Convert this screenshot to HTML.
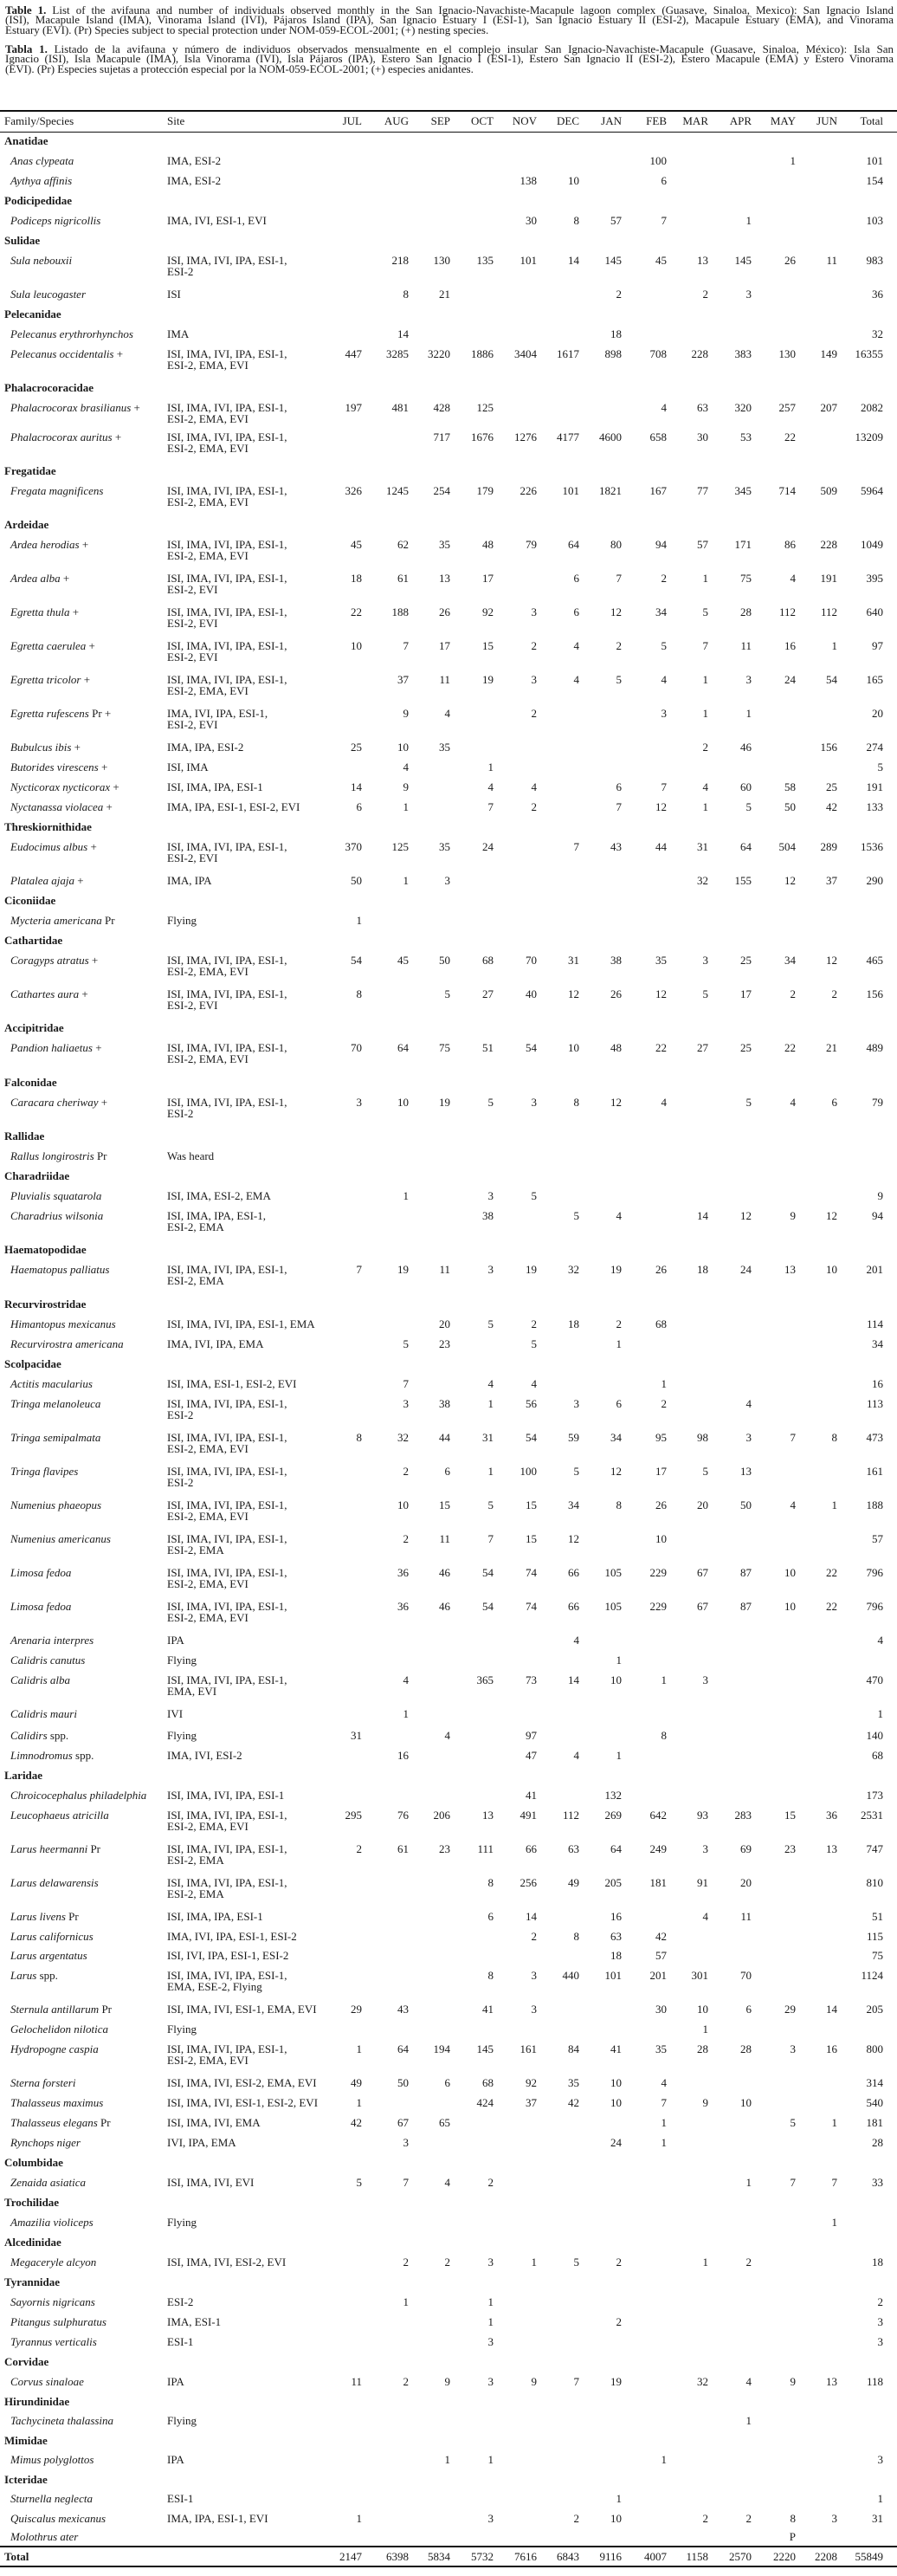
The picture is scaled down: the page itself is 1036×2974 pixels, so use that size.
<!DOCTYPE html>
<html><head><meta charset="utf-8">
<style>
html,body{margin:0;padding:0;background:#fff}
body{width:1036px;height:2974px;position:relative;overflow:hidden;font-family:"Liberation Serif",serif;font-size:13px;color:#1a1a1a}
.t{position:absolute;left:6px;width:1026px;height:14px;line-height:14px;font-size:13px;text-align:justify;text-align-last:justify;overflow:hidden;white-space:normal}
.t.l{text-align-last:left}
.r{position:absolute;left:0;width:1036px;height:14px;line-height:14px;white-space:nowrap}
.r b.fa{position:absolute;left:5px;font-weight:bold}
.r i{position:absolute;left:12px}
.r i span{font-style:normal}
.r .st{position:absolute;left:193px}
.r .s2{position:absolute;left:193px;top:13px}
.r u{position:absolute;text-decoration:none}
.m1{right:618px}.m2{right:564px}.m3{right:516px}.m4{right:466px}.m5{right:416px}.m6{right:367px}.m7{right:318px}.m8{right:266px}.m9{right:218px}.m10{right:168px}.m11{right:117px}.m12{right:69px}.m13{right:16px}
.rule{position:absolute;left:0;width:1036px;background:#111}
</style></head><body>

<div class="t" style="top:5px"><b>Table 1.</b> List of the avifauna and number of individuals observed monthly in the San Ignacio-Navachiste-Macapule lagoon complex (Guasave, Sinaloa, Mexico): San Ignacio Island</div>
<div class="t" style="top:16px">(ISI), Macapule Island (IMA), Vinorama Island (IVI), Pájaros Island (IPA), San Ignacio Estuary I (ESI-1), San Ignacio Estuary II (ESI-2), Macapule Estuary (EMA), and Vinorama</div>
<div class="t l" style="top:28px">Estuary (EVI). (Pr) Species subject to special protection under NOM-059-ECOL-2001; (+) nesting species.</div>
<div class="t" style="top:50px"><b>Tabla 1.</b> Listado de la avifauna y número de individuos observados mensualmente en el complejo insular San Ignacio-Navachiste-Macapule (Guasave, Sinaloa, México): Isla San</div>
<div class="t" style="top:61px">Ignacio (ISI), Isla Macapule (IMA), Isla Vinorama (IVI), Isla Pájaros (IPA), Estero San Ignacio I (ESI-1), Estero San Ignacio II (ESI-2), Estero Macapule (EMA) y Estero Vinorama</div>
<div class="t l" style="top:73px">(EVI). (Pr) Especies sujetas a protección especial por la NOM-059-ECOL-2001; (+) especies anidantes.</div>

<div class="rule" style="top:127px;height:2px"></div>
<div class="r" style="top:133px"><span style="position:absolute;left:5px">Family/Species</span><span class="st">Site</span><u class="m1">JUL</u><u class="m2">AUG</u><u class="m3">SEP</u><u class="m4">OCT</u><u class="m5">NOV</u><u class="m6">DEC</u><u class="m7">JAN</u><u class="m8">FEB</u><u class="m9">MAR</u><u class="m10">APR</u><u class="m11">MAY</u><u class="m12">JUN</u><u class="m13">Total</u></div>
<div class="rule" style="top:152px;height:1px"></div>

<div class="r" style="top:156px"><b class="fa">Anatidae</b></div>
<div class="r" style="top:179px"><i>Anas clypeata</i><span class="st">IMA, ESI-2</span><u class="m8">100</u><u class="m11">1</u><u class="m13">101</u></div>
<div class="r" style="top:202px"><i>Aythya affinis</i><span class="st">IMA, ESI-2</span><u class="m5">138</u><u class="m6">10</u><u class="m8">6</u><u class="m13">154</u></div>
<div class="r" style="top:225px"><b class="fa">Podicipedidae</b></div>
<div class="r" style="top:248px"><i>Podiceps nigricollis</i><span class="st">IMA, IVI, ESI-1, EVI</span><u class="m5">30</u><u class="m6">8</u><u class="m7">57</u><u class="m8">7</u><u class="m10">1</u><u class="m13">103</u></div>
<div class="r" style="top:271px"><b class="fa">Sulidae</b></div>
<div class="r" style="top:294px"><i>Sula nebouxii</i><span class="st">ISI, IMA, IVI, IPA, ESI-1,</span><span class="s2">ESI-2</span><u class="m2">218</u><u class="m3">130</u><u class="m4">135</u><u class="m5">101</u><u class="m6">14</u><u class="m7">145</u><u class="m8">45</u><u class="m9">13</u><u class="m10">145</u><u class="m11">26</u><u class="m12">11</u><u class="m13">983</u></div>
<div class="r" style="top:333px"><i>Sula leucogaster</i><span class="st">ISI</span><u class="m2">8</u><u class="m3">21</u><u class="m7">2</u><u class="m9">2</u><u class="m10">3</u><u class="m13">36</u></div>
<div class="r" style="top:356px"><b class="fa">Pelecanidae</b></div>
<div class="r" style="top:379px"><i>Pelecanus erythrorhynchos</i><span class="st">IMA</span><u class="m2">14</u><u class="m7">18</u><u class="m13">32</u></div>
<div class="r" style="top:402px"><i>Pelecanus occidentalis <span>+</span></i><span class="st">ISI, IMA, IVI, IPA, ESI-1,</span><span class="s2">ESI-2, EMA, EVI</span><u class="m1">447</u><u class="m2">3285</u><u class="m3">3220</u><u class="m4">1886</u><u class="m5">3404</u><u class="m6">1617</u><u class="m7">898</u><u class="m8">708</u><u class="m9">228</u><u class="m10">383</u><u class="m11">130</u><u class="m12">149</u><u class="m13">16355</u></div>
<div class="r" style="top:441px"><b class="fa">Phalacrocoracidae</b></div>
<div class="r" style="top:464px"><i>Phalacrocorax brasilianus <span>+</span></i><span class="st">ISI, IMA, IVI, IPA, ESI-1,</span><span class="s2">ESI-2, EMA, EVI</span><u class="m1">197</u><u class="m2">481</u><u class="m3">428</u><u class="m4">125</u><u class="m8">4</u><u class="m9">63</u><u class="m10">320</u><u class="m11">257</u><u class="m12">207</u><u class="m13">2082</u></div>
<div class="r" style="top:498px"><i>Phalacrocorax auritus <span>+</span></i><span class="st">ISI, IMA, IVI, IPA, ESI-1,</span><span class="s2">ESI-2, EMA, EVI</span><u class="m3">717</u><u class="m4">1676</u><u class="m5">1276</u><u class="m6">4177</u><u class="m7">4600</u><u class="m8">658</u><u class="m9">30</u><u class="m10">53</u><u class="m11">22</u><u class="m13">13209</u></div>
<div class="r" style="top:537px"><b class="fa">Fregatidae</b></div>
<div class="r" style="top:560px"><i>Fregata magnificens</i><span class="st">ISI, IMA, IVI, IPA, ESI-1,</span><span class="s2">ESI-2, EMA, EVI</span><u class="m1">326</u><u class="m2">1245</u><u class="m3">254</u><u class="m4">179</u><u class="m5">226</u><u class="m6">101</u><u class="m7">1821</u><u class="m8">167</u><u class="m9">77</u><u class="m10">345</u><u class="m11">714</u><u class="m12">509</u><u class="m13">5964</u></div>
<div class="r" style="top:599px"><b class="fa">Ardeidae</b></div>
<div class="r" style="top:622px"><i>Ardea herodias <span>+</span></i><span class="st">ISI, IMA, IVI, IPA, ESI-1,</span><span class="s2">ESI-2, EMA, EVI</span><u class="m1">45</u><u class="m2">62</u><u class="m3">35</u><u class="m4">48</u><u class="m5">79</u><u class="m6">64</u><u class="m7">80</u><u class="m8">94</u><u class="m9">57</u><u class="m10">171</u><u class="m11">86</u><u class="m12">228</u><u class="m13">1049</u></div>
<div class="r" style="top:661px"><i>Ardea alba <span>+</span></i><span class="st">ISI, IMA, IVI, IPA, ESI-1,</span><span class="s2">ESI-2, EVI</span><u class="m1">18</u><u class="m2">61</u><u class="m3">13</u><u class="m4">17</u><u class="m6">6</u><u class="m7">7</u><u class="m8">2</u><u class="m9">1</u><u class="m10">75</u><u class="m11">4</u><u class="m12">191</u><u class="m13">395</u></div>
<div class="r" style="top:700px"><i>Egretta thula <span>+</span></i><span class="st">ISI, IMA, IVI, IPA, ESI-1,</span><span class="s2">ESI-2, EVI</span><u class="m1">22</u><u class="m2">188</u><u class="m3">26</u><u class="m4">92</u><u class="m5">3</u><u class="m6">6</u><u class="m7">12</u><u class="m8">34</u><u class="m9">5</u><u class="m10">28</u><u class="m11">112</u><u class="m12">112</u><u class="m13">640</u></div>
<div class="r" style="top:739px"><i>Egretta caerulea <span>+</span></i><span class="st">ISI, IMA, IVI, IPA, ESI-1,</span><span class="s2">ESI-2, EVI</span><u class="m1">10</u><u class="m2">7</u><u class="m3">17</u><u class="m4">15</u><u class="m5">2</u><u class="m6">4</u><u class="m7">2</u><u class="m8">5</u><u class="m9">7</u><u class="m10">11</u><u class="m11">16</u><u class="m12">1</u><u class="m13">97</u></div>
<div class="r" style="top:778px"><i>Egretta tricolor <span>+</span></i><span class="st">ISI, IMA, IVI, IPA, ESI-1,</span><span class="s2">ESI-2, EMA, EVI</span><u class="m2">37</u><u class="m3">11</u><u class="m4">19</u><u class="m5">3</u><u class="m6">4</u><u class="m7">5</u><u class="m8">4</u><u class="m9">1</u><u class="m10">3</u><u class="m11">24</u><u class="m12">54</u><u class="m13">165</u></div>
<div class="r" style="top:817px"><i>Egretta rufescens <span>Pr +</span></i><span class="st">IMA, IVI, IPA, ESI-1,</span><span class="s2">ESI-2, EVI</span><u class="m2">9</u><u class="m3">4</u><u class="m5">2</u><u class="m8">3</u><u class="m9">1</u><u class="m10">1</u><u class="m13">20</u></div>
<div class="r" style="top:856px"><i>Bubulcus ibis <span>+</span></i><span class="st">IMA, IPA, ESI-2</span><u class="m1">25</u><u class="m2">10</u><u class="m3">35</u><u class="m9">2</u><u class="m10">46</u><u class="m12">156</u><u class="m13">274</u></div>
<div class="r" style="top:879px"><i>Butorides virescens <span>+</span></i><span class="st">ISI, IMA</span><u class="m2">4</u><u class="m4">1</u><u class="m13">5</u></div>
<div class="r" style="top:902px"><i>Nycticorax nycticorax <span>+</span></i><span class="st">ISI, IMA, IPA, ESI-1</span><u class="m1">14</u><u class="m2">9</u><u class="m4">4</u><u class="m5">4</u><u class="m7">6</u><u class="m8">7</u><u class="m9">4</u><u class="m10">60</u><u class="m11">58</u><u class="m12">25</u><u class="m13">191</u></div>
<div class="r" style="top:925px"><i>Nyctanassa violacea <span>+</span></i><span class="st">IMA, IPA, ESI-1, ESI-2, EVI</span><u class="m1">6</u><u class="m2">1</u><u class="m4">7</u><u class="m5">2</u><u class="m7">7</u><u class="m8">12</u><u class="m9">1</u><u class="m10">5</u><u class="m11">50</u><u class="m12">42</u><u class="m13">133</u></div>
<div class="r" style="top:948px"><b class="fa">Threskiornithidae</b></div>
<div class="r" style="top:971px"><i>Eudocimus albus <span>+</span></i><span class="st">ISI, IMA, IVI, IPA, ESI-1,</span><span class="s2">ESI-2, EVI</span><u class="m1">370</u><u class="m2">125</u><u class="m3">35</u><u class="m4">24</u><u class="m6">7</u><u class="m7">43</u><u class="m8">44</u><u class="m9">31</u><u class="m10">64</u><u class="m11">504</u><u class="m12">289</u><u class="m13">1536</u></div>
<div class="r" style="top:1010px"><i>Platalea ajaja <span>+</span></i><span class="st">IMA, IPA</span><u class="m1">50</u><u class="m2">1</u><u class="m3">3</u><u class="m9">32</u><u class="m10">155</u><u class="m11">12</u><u class="m12">37</u><u class="m13">290</u></div>
<div class="r" style="top:1033px"><b class="fa">Ciconiidae</b></div>
<div class="r" style="top:1056px"><i>Mycteria americana <span>Pr</span></i><span class="st">Flying</span><u class="m1">1</u></div>
<div class="r" style="top:1079px"><b class="fa">Cathartidae</b></div>
<div class="r" style="top:1102px"><i>Coragyps atratus <span>+</span></i><span class="st">ISI, IMA, IVI, IPA, ESI-1,</span><span class="s2">ESI-2, EMA, EVI</span><u class="m1">54</u><u class="m2">45</u><u class="m3">50</u><u class="m4">68</u><u class="m5">70</u><u class="m6">31</u><u class="m7">38</u><u class="m8">35</u><u class="m9">3</u><u class="m10">25</u><u class="m11">34</u><u class="m12">12</u><u class="m13">465</u></div>
<div class="r" style="top:1141px"><i>Cathartes aura <span>+</span></i><span class="st">ISI, IMA, IVI, IPA, ESI-1,</span><span class="s2">ESI-2, EVI</span><u class="m1">8</u><u class="m3">5</u><u class="m4">27</u><u class="m5">40</u><u class="m6">12</u><u class="m7">26</u><u class="m8">12</u><u class="m9">5</u><u class="m10">17</u><u class="m11">2</u><u class="m12">2</u><u class="m13">156</u></div>
<div class="r" style="top:1180px"><b class="fa">Accipitridae</b></div>
<div class="r" style="top:1203px"><i>Pandion haliaetus <span>+</span></i><span class="st">ISI, IMA, IVI, IPA, ESI-1,</span><span class="s2">ESI-2, EMA, EVI</span><u class="m1">70</u><u class="m2">64</u><u class="m3">75</u><u class="m4">51</u><u class="m5">54</u><u class="m6">10</u><u class="m7">48</u><u class="m8">22</u><u class="m9">27</u><u class="m10">25</u><u class="m11">22</u><u class="m12">21</u><u class="m13">489</u></div>
<div class="r" style="top:1243px"><b class="fa">Falconidae</b></div>
<div class="r" style="top:1266px"><i>Caracara cheriway <span>+</span></i><span class="st">ISI, IMA, IVI, IPA, ESI-1,</span><span class="s2">ESI-2</span><u class="m1">3</u><u class="m2">10</u><u class="m3">19</u><u class="m4">5</u><u class="m5">3</u><u class="m6">8</u><u class="m7">12</u><u class="m8">4</u><u class="m10">5</u><u class="m11">4</u><u class="m12">6</u><u class="m13">79</u></div>
<div class="r" style="top:1305px"><b class="fa">Rallidae</b></div>
<div class="r" style="top:1328px"><i>Rallus longirostris <span>Pr</span></i><span class="st">Was heard</span></div>
<div class="r" style="top:1351px"><b class="fa">Charadriidae</b></div>
<div class="r" style="top:1374px"><i>Pluvialis squatarola</i><span class="st">ISI, IMA, ESI-2, EMA</span><u class="m2">1</u><u class="m4">3</u><u class="m5">5</u><u class="m13">9</u></div>
<div class="r" style="top:1397px"><i>Charadrius wilsonia</i><span class="st">ISI, IMA, IPA, ESI-1,</span><span class="s2">ESI-2, EMA</span><u class="m4">38</u><u class="m6">5</u><u class="m7">4</u><u class="m9">14</u><u class="m10">12</u><u class="m11">9</u><u class="m12">12</u><u class="m13">94</u></div>
<div class="r" style="top:1436px"><b class="fa">Haematopodidae</b></div>
<div class="r" style="top:1459px"><i>Haematopus palliatus</i><span class="st">ISI, IMA, IVI, IPA, ESI-1,</span><span class="s2">ESI-2, EMA</span><u class="m1">7</u><u class="m2">19</u><u class="m3">11</u><u class="m4">3</u><u class="m5">19</u><u class="m6">32</u><u class="m7">19</u><u class="m8">26</u><u class="m9">18</u><u class="m10">24</u><u class="m11">13</u><u class="m12">10</u><u class="m13">201</u></div>
<div class="r" style="top:1499px"><b class="fa">Recurvirostridae</b></div>
<div class="r" style="top:1522px"><i>Himantopus mexicanus</i><span class="st">ISI, IMA, IVI, IPA, ESI-1, EMA</span><u class="m3">20</u><u class="m4">5</u><u class="m5">2</u><u class="m6">18</u><u class="m7">2</u><u class="m8">68</u><u class="m13">114</u></div>
<div class="r" style="top:1545px"><i>Recurvirostra americana</i><span class="st">IMA, IVI, IPA, EMA</span><u class="m2">5</u><u class="m3">23</u><u class="m5">5</u><u class="m7">1</u><u class="m13">34</u></div>
<div class="r" style="top:1568px"><b class="fa">Scolpacidae</b></div>
<div class="r" style="top:1591px"><i>Actitis macularius</i><span class="st">ISI, IMA, ESI-1, ESI-2, EVI</span><u class="m2">7</u><u class="m4">4</u><u class="m5">4</u><u class="m8">1</u><u class="m13">16</u></div>
<div class="r" style="top:1614px"><i>Tringa melanoleuca</i><span class="st">ISI, IMA, IVI, IPA, ESI-1,</span><span class="s2">ESI-2</span><u class="m2">3</u><u class="m3">38</u><u class="m4">1</u><u class="m5">56</u><u class="m6">3</u><u class="m7">6</u><u class="m8">2</u><u class="m10">4</u><u class="m13">113</u></div>
<div class="r" style="top:1653px"><i>Tringa semipalmata</i><span class="st">ISI, IMA, IVI, IPA, ESI-1,</span><span class="s2">ESI-2, EMA, EVI</span><u class="m1">8</u><u class="m2">32</u><u class="m3">44</u><u class="m4">31</u><u class="m5">54</u><u class="m6">59</u><u class="m7">34</u><u class="m8">95</u><u class="m9">98</u><u class="m10">3</u><u class="m11">7</u><u class="m12">8</u><u class="m13">473</u></div>
<div class="r" style="top:1692px"><i>Tringa flavipes</i><span class="st">ISI, IMA, IVI, IPA, ESI-1,</span><span class="s2">ESI-2</span><u class="m2">2</u><u class="m3">6</u><u class="m4">1</u><u class="m5">100</u><u class="m6">5</u><u class="m7">12</u><u class="m8">17</u><u class="m9">5</u><u class="m10">13</u><u class="m13">161</u></div>
<div class="r" style="top:1731px"><i>Numenius phaeopus</i><span class="st">ISI, IMA, IVI, IPA, ESI-1,</span><span class="s2">ESI-2, EMA, EVI</span><u class="m2">10</u><u class="m3">15</u><u class="m4">5</u><u class="m5">15</u><u class="m6">34</u><u class="m7">8</u><u class="m8">26</u><u class="m9">20</u><u class="m10">50</u><u class="m11">4</u><u class="m12">1</u><u class="m13">188</u></div>
<div class="r" style="top:1770px"><i>Numenius americanus</i><span class="st">ISI, IMA, IVI, IPA, ESI-1,</span><span class="s2">ESI-2, EMA</span><u class="m2">2</u><u class="m3">11</u><u class="m4">7</u><u class="m5">15</u><u class="m6">12</u><u class="m8">10</u><u class="m13">57</u></div>
<div class="r" style="top:1809px"><i>Limosa fedoa</i><span class="st">ISI, IMA, IVI, IPA, ESI-1,</span><span class="s2">ESI-2, EMA, EVI</span><u class="m2">36</u><u class="m3">46</u><u class="m4">54</u><u class="m5">74</u><u class="m6">66</u><u class="m7">105</u><u class="m8">229</u><u class="m9">67</u><u class="m10">87</u><u class="m11">10</u><u class="m12">22</u><u class="m13">796</u></div>
<div class="r" style="top:1848px"><i>Limosa fedoa</i><span class="st">ISI, IMA, IVI, IPA, ESI-1,</span><span class="s2">ESI-2, EMA, EVI</span><u class="m2">36</u><u class="m3">46</u><u class="m4">54</u><u class="m5">74</u><u class="m6">66</u><u class="m7">105</u><u class="m8">229</u><u class="m9">67</u><u class="m10">87</u><u class="m11">10</u><u class="m12">22</u><u class="m13">796</u></div>
<div class="r" style="top:1887px"><i>Arenaria interpres</i><span class="st">IPA</span><u class="m6">4</u><u class="m13">4</u></div>
<div class="r" style="top:1910px"><i>Calidris canutus</i><span class="st">Flying</span><u class="m7">1</u></div>
<div class="r" style="top:1933px"><i>Calidris alba</i><span class="st">ISI, IMA, IVI, IPA, ESI-1,</span><span class="s2">EMA, EVI</span><u class="m2">4</u><u class="m4">365</u><u class="m5">73</u><u class="m6">14</u><u class="m7">10</u><u class="m8">1</u><u class="m9">3</u><u class="m13">470</u></div>
<div class="r" style="top:1972px"><i>Calidris mauri</i><span class="st">IVI</span><u class="m2">1</u><u class="m13">1</u></div>
<div class="r" style="top:1997px"><i>Calidirs <span>spp.</span></i><span class="st">Flying</span><u class="m1">31</u><u class="m3">4</u><u class="m5">97</u><u class="m8">8</u><u class="m13">140</u></div>
<div class="r" style="top:2020px"><i>Limnodromus <span>spp.</span></i><span class="st">IMA, IVI, ESI-2</span><u class="m2">16</u><u class="m5">47</u><u class="m6">4</u><u class="m7">1</u><u class="m13">68</u></div>
<div class="r" style="top:2043px"><b class="fa">Laridae</b></div>
<div class="r" style="top:2066px"><i>Chroicocephalus philadelphia</i><span class="st">ISI, IMA, IVI, IPA, ESI-1</span><u class="m5">41</u><u class="m7">132</u><u class="m13">173</u></div>
<div class="r" style="top:2089px"><i>Leucophaeus atricilla</i><span class="st">ISI, IMA, IVI, IPA, ESI-1,</span><span class="s2">ESI-2, EMA, EVI</span><u class="m1">295</u><u class="m2">76</u><u class="m3">206</u><u class="m4">13</u><u class="m5">491</u><u class="m6">112</u><u class="m7">269</u><u class="m8">642</u><u class="m9">93</u><u class="m10">283</u><u class="m11">15</u><u class="m12">36</u><u class="m13">2531</u></div>
<div class="r" style="top:2128px"><i>Larus heermanni <span>Pr</span></i><span class="st">ISI, IMA, IVI, IPA, ESI-1,</span><span class="s2">ESI-2, EMA</span><u class="m1">2</u><u class="m2">61</u><u class="m3">23</u><u class="m4">111</u><u class="m5">66</u><u class="m6">63</u><u class="m7">64</u><u class="m8">249</u><u class="m9">3</u><u class="m10">69</u><u class="m11">23</u><u class="m12">13</u><u class="m13">747</u></div>
<div class="r" style="top:2167px"><i>Larus delawarensis</i><span class="st">ISI, IMA, IVI, IPA, ESI-1,</span><span class="s2">ESI-2, EMA</span><u class="m4">8</u><u class="m5">256</u><u class="m6">49</u><u class="m7">205</u><u class="m8">181</u><u class="m9">91</u><u class="m10">20</u><u class="m13">810</u></div>
<div class="r" style="top:2206px"><i>Larus livens <span>Pr</span></i><span class="st">ISI, IMA, IPA, ESI-1</span><u class="m4">6</u><u class="m5">14</u><u class="m7">16</u><u class="m9">4</u><u class="m10">11</u><u class="m13">51</u></div>
<div class="r" style="top:2229px"><i>Larus californicus</i><span class="st">IMA, IVI, IPA, ESI-1, ESI-2</span><u class="m5">2</u><u class="m6">8</u><u class="m7">63</u><u class="m8">42</u><u class="m13">115</u></div>
<div class="r" style="top:2251px"><i>Larus argentatus</i><span class="st">ISI, IVI, IPA, ESI-1, ESI-2</span><u class="m7">18</u><u class="m8">57</u><u class="m13">75</u></div>
<div class="r" style="top:2274px"><i>Larus <span>spp.</span></i><span class="st">ISI, IMA, IVI, IPA, ESI-1,</span><span class="s2">EMA, ESE-2, Flying</span><u class="m4">8</u><u class="m5">3</u><u class="m6">440</u><u class="m7">101</u><u class="m8">201</u><u class="m9">301</u><u class="m10">70</u><u class="m13">1124</u></div>
<div class="r" style="top:2313px"><i>Sternula antillarum <span>Pr</span></i><span class="st">ISI, IMA, IVI, ESI-1, EMA, EVI</span><u class="m1">29</u><u class="m2">43</u><u class="m4">41</u><u class="m5">3</u><u class="m8">30</u><u class="m9">10</u><u class="m10">6</u><u class="m11">29</u><u class="m12">14</u><u class="m13">205</u></div>
<div class="r" style="top:2336px"><i>Gelochelidon nilotica</i><span class="st">Flying</span><u class="m9">1</u></div>
<div class="r" style="top:2359px"><i>Hydropogne caspia</i><span class="st">ISI, IMA, IVI, IPA, ESI-1,</span><span class="s2">ESI-2, EMA, EVI</span><u class="m1">1</u><u class="m2">64</u><u class="m3">194</u><u class="m4">145</u><u class="m5">161</u><u class="m6">84</u><u class="m7">41</u><u class="m8">35</u><u class="m9">28</u><u class="m10">28</u><u class="m11">3</u><u class="m12">16</u><u class="m13">800</u></div>
<div class="r" style="top:2398px"><i>Sterna forsteri</i><span class="st">ISI, IMA, IVI, ESI-2, EMA, EVI</span><u class="m1">49</u><u class="m2">50</u><u class="m3">6</u><u class="m4">68</u><u class="m5">92</u><u class="m6">35</u><u class="m7">10</u><u class="m8">4</u><u class="m13">314</u></div>
<div class="r" style="top:2421px"><i>Thalasseus maximus</i><span class="st">ISI, IMA, IVI, ESI-1, ESI-2, EVI</span><u class="m1">1</u><u class="m4">424</u><u class="m5">37</u><u class="m6">42</u><u class="m7">10</u><u class="m8">7</u><u class="m9">9</u><u class="m10">10</u><u class="m13">540</u></div>
<div class="r" style="top:2444px"><i>Thalasseus elegans <span>Pr</span></i><span class="st">ISI, IMA, IVI, EMA</span><u class="m1">42</u><u class="m2">67</u><u class="m3">65</u><u class="m8">1</u><u class="m11">5</u><u class="m12">1</u><u class="m13">181</u></div>
<div class="r" style="top:2467px"><i>Rynchops niger</i><span class="st">IVI, IPA, EMA</span><u class="m2">3</u><u class="m7">24</u><u class="m8">1</u><u class="m13">28</u></div>
<div class="r" style="top:2490px"><b class="fa">Columbidae</b></div>
<div class="r" style="top:2513px"><i>Zenaida asiatica</i><span class="st">ISI, IMA, IVI, EVI</span><u class="m1">5</u><u class="m2">7</u><u class="m3">4</u><u class="m4">2</u><u class="m10">1</u><u class="m11">7</u><u class="m12">7</u><u class="m13">33</u></div>
<div class="r" style="top:2536px"><b class="fa">Trochilidae</b></div>
<div class="r" style="top:2559px"><i>Amazilia violiceps</i><span class="st">Flying</span><u class="m12">1</u></div>
<div class="r" style="top:2582px"><b class="fa">Alcedinidae</b></div>
<div class="r" style="top:2605px"><i>Megaceryle alcyon</i><span class="st">ISI, IMA, IVI, ESI-2, EVI</span><u class="m2">2</u><u class="m3">2</u><u class="m4">3</u><u class="m5">1</u><u class="m6">5</u><u class="m7">2</u><u class="m9">1</u><u class="m10">2</u><u class="m13">18</u></div>
<div class="r" style="top:2628px"><b class="fa">Tyrannidae</b></div>
<div class="r" style="top:2651px"><i>Sayornis nigricans</i><span class="st">ESI-2</span><u class="m2">1</u><u class="m4">1</u><u class="m13">2</u></div>
<div class="r" style="top:2674px"><i>Pitangus sulphuratus</i><span class="st">IMA, ESI-1</span><u class="m4">1</u><u class="m7">2</u><u class="m13">3</u></div>
<div class="r" style="top:2697px"><i>Tyrannus verticalis</i><span class="st">ESI-1</span><u class="m4">3</u><u class="m13">3</u></div>
<div class="r" style="top:2720px"><b class="fa">Corvidae</b></div>
<div class="r" style="top:2743px"><i>Corvus sinaloae</i><span class="st">IPA</span><u class="m1">11</u><u class="m2">2</u><u class="m3">9</u><u class="m4">3</u><u class="m5">9</u><u class="m6">7</u><u class="m7">19</u><u class="m9">32</u><u class="m10">4</u><u class="m11">9</u><u class="m12">13</u><u class="m13">118</u></div>
<div class="r" style="top:2766px"><b class="fa">Hirundinidae</b></div>
<div class="r" style="top:2788px"><i>Tachycineta thalassina</i><span class="st">Flying</span><u class="m10">1</u></div>
<div class="r" style="top:2811px"><b class="fa">Mimidae</b></div>
<div class="r" style="top:2833px"><i>Mimus polyglottos</i><span class="st">IPA</span><u class="m3">1</u><u class="m4">1</u><u class="m8">1</u><u class="m13">3</u></div>
<div class="r" style="top:2856px"><b class="fa">Icteridae</b></div>
<div class="r" style="top:2878px"><i>Sturnella neglecta</i><span class="st">ESI-1</span><u class="m7">1</u><u class="m13">1</u></div>
<div class="r" style="top:2901px"><i>Quiscalus mexicanus</i><span class="st">IMA, IPA, ESI-1, EVI</span><u class="m1">1</u><u class="m4">3</u><u class="m6">2</u><u class="m7">10</u><u class="m9">2</u><u class="m10">2</u><u class="m11">8</u><u class="m12">3</u><u class="m13">31</u></div>
<div class="r" style="top:2922px"><i>Molothrus ater</i><u class="m11">P</u></div>
<div class="rule" style="top:2939px;height:2px"></div>
<div class="r" style="top:2945px"><b class="fa">Total</b><u class="m1">2147</u><u class="m2">6398</u><u class="m3">5834</u><u class="m4">5732</u><u class="m5">7616</u><u class="m6">6843</u><u class="m7">9116</u><u class="m8">4007</u><u class="m9">1158</u><u class="m10">2570</u><u class="m11">2220</u><u class="m12">2208</u><u class="m13">55849</u></div>
<div class="rule" style="top:2962px;height:2px"></div>
</body></html>
